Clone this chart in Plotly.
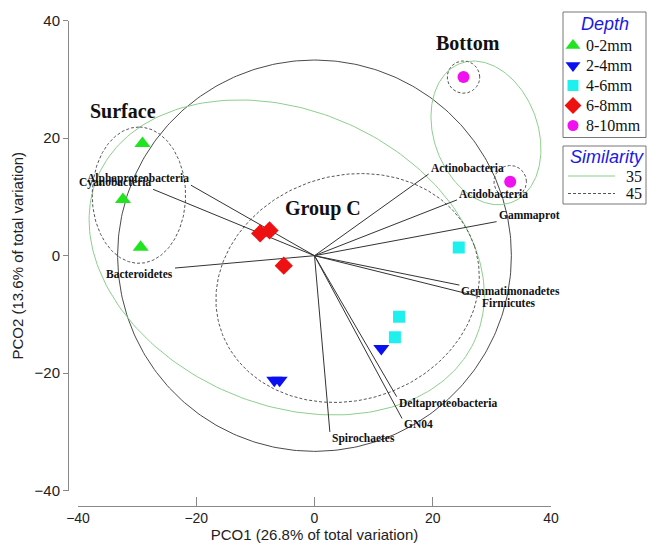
import numpy as np
import plotly.graph_objects as go

# ---- sample scores on the first two principal coordinates ----
depth_groups = ["0-2mm", "2-4mm", "4-6mm", "6-8mm", "8-10mm"]
pco1_0_2 = [-29.1, -32.4, -29.4]
pco2_0_2 = [19.1, 9.55, 1.43]
pco1_2_4 = [-6.8, -5.9, 11.3]
pco2_2_4 = [-21.2, -21.2, -15.8]
pco1_4_6 = [24.4, 14.3, 13.6]
pco2_4_6 = [1.4, -10.4, -13.9]
pco1_6_8 = [-9.2, -7.6, -5.2]
pco2_6_8 = [3.8, 4.3, -1.7]
pco1_8_10 = [25.2, 33.1]
pco2_8_10 = [30.4, 12.6]

group_x = [pco1_0_2, pco1_2_4, pco1_4_6, pco1_6_8, pco1_8_10]
group_y = [pco2_0_2, pco2_2_4, pco2_4_6, pco2_6_8, pco2_8_10]
group_symbols = ["triangle-up", "triangle-down", "square", "diamond", "circle"]
group_colors = ["#1fe41f", "#0a10f0", "#1ef0f0", "#ee1111", "#f010f0"]
group_sizes = [14, 14, 12, 14, 12]

# ---- taxon vectors (end points of correlation vectors) ----
taxa = ["Alphaproteobacteria", "Cyanobacteria", "Bacteroidetes", "Actinobacteria",
        "Acidobacteria", "Gammaprot", "Gemmatimonadetes", "Firmicutes",
        "Deltaproteobacteria", "GN04", "Spirochaetes"]
vec_x = [-20.9, -27.3, -23.6, 19.3, 24.1, 30.8, 24.5, 28.0, 13.9, 14.8, 2.6]
vec_y = [12.0, 11.3, -2.1, 13.9, 9.5, 5.8, -5.0, -7.0, -24.0, -27.7, -30.0]
vector_circle_radius = 33.3

# ---- similarity contours (centre x, centre y, semi-axis a, semi-axis b, angle deg) ----
sim_levels = ["35", "45"]
contours_35 = [(-4.7, -0.3, 34.8, 25.0, -23.6),
               (29.0, 20.9, 12.6, 8.8, -70.5)]
contours_45 = [(-29.7, 10.3, 11.6, 7.9, 90.0),
               (5.6, -5.5, 22.6, 19.1, 18.5),
               (25.2, 30.4, 2.75, 2.75, 0.0),
               (33.1, 12.6, 2.75, 2.75, 0.0)]
sim_styles = [dict(color="#8ccf8c", width=1, dash="solid"),
              dict(color="#555555", width=1, dash="3px,2px")]

group_names = ["Surface", "Bottom", "Group C"]
group_label_x = [-32.4, 26.0, 1.4]
group_label_y = [24.7, 36.2, 7.95]

x_ticks = [-40, -20, 0, 20, 40]
y_ticks = [-40, -20, 0, 20, 40]


def ellipse(cx, cy, a, b, ang_deg, n=240):
    t = np.linspace(0, 2 * np.pi, n)
    phi = np.deg2rad(ang_deg)
    ex = cx + a * np.cos(t) * np.cos(phi) - b * np.sin(t) * np.sin(phi)
    ey = cy + a * np.cos(t) * np.sin(phi) + b * np.sin(t) * np.cos(phi)
    return ex, ey


W, H = 648, 543
fig = go.Figure()

# correlation circle
cx_, cy_ = ellipse(0, 0, vector_circle_radius, vector_circle_radius, 0, 360)
fig.add_trace(go.Scatter(x=cx_, y=cy_, mode="lines", showlegend=False,
                         line=dict(color="#4a4a4a", width=1), hoverinfo="skip"))

# similarity contours
for contours, style in zip([contours_35, contours_45], sim_styles):
    for ccx, ccy, a, b, ang in contours:
        ex, ey = ellipse(ccx, ccy, a, b, ang)
        fig.add_trace(go.Scatter(x=ex, y=ey, mode="lines", showlegend=False,
                                 line=style, hoverinfo="skip"))

# vectors from the origin
lx, ly = [], []
for vx, vy in zip(vec_x, vec_y):
    lx += [0, vx, None]
    ly += [0, vy, None]
fig.add_trace(go.Scatter(x=lx, y=ly, mode="lines", showlegend=False,
                         line=dict(color="#333333", width=1), hoverinfo="skip"))

# samples
for name, xs, ys, sym, col, sz in zip(depth_groups, group_x, group_y,
                                      group_symbols, group_colors, group_sizes):
    fig.add_trace(go.Scatter(x=xs, y=ys, mode="markers", name=name,
                             showlegend=False,
                             marker=dict(symbol=sym, color=col, size=sz,
                                         line=dict(width=0))))

annotations = []
for name, vx, vy in zip(taxa, vec_x, vec_y):
    annotations.append(dict(
        x=vx, y=vy, xref="x", yref="y", text=name, showarrow=False,
        xanchor="left" if vx > 0 else "right",
        yanchor="bottom" if vy > 0 else "top",
        yshift=-2 if vy > 0 else 2,
        font=dict(family="Liberation Serif", size=11.5, color="#111111",
                  weight="bold")))
for name, gx, gy in zip(group_names, group_label_x, group_label_y):
    annotations.append(dict(
        x=gx, y=gy, xref="x", yref="y", text=name, showarrow=False,
        font=dict(family="Liberation Serif", size=20, color="#111111",
                  weight="bold")))

# ---- keys drawn on a pixel-coordinate overlay axis (x2/y2) ----
item_font = dict(family="Liberation Serif", size=16, color="#111111")
title_font = dict(family="Liberation Sans", size=18, color="#1a1ae6",
                  style="italic")
shapes = []
key_left, key_right = 563, 646
depth_top, depth_row0, row_step = 12, 45.5, 20
depth_bottom = depth_row0 + row_step * (len(depth_groups) - 1) + 12
shapes.append(dict(type="rect", xref="x2", yref="y2", x0=key_left, x1=key_right,
                   y0=depth_top, y1=depth_bottom,
                   line=dict(color="#777777", width=1)))
annotations.append(dict(x=(key_left + key_right) / 2, y=24, xref="x2", yref="y2",
                        text="Depth", showarrow=False, font=title_font))
for i, (name, sym, col, sz) in enumerate(zip(depth_groups, group_symbols,
                                             group_colors, group_sizes)):
    ry = depth_row0 + i * row_step
    fig.add_trace(go.Scatter(x=[573], y=[ry], xaxis="x2", yaxis="y2",
                             mode="markers", showlegend=False, hoverinfo="skip",
                             marker=dict(symbol=sym, color=col, size=sz - 1,
                                         line=dict(width=0))))
    annotations.append(dict(x=584, y=ry, xref="x2", yref="y2", text=name,
                            xanchor="left", showarrow=False, font=item_font))

sim_top, sim_row0, sim_step = 146, 176, 17.5
shapes.append(dict(type="rect", xref="x2", yref="y2", x0=key_left, x1=key_right,
                   y0=sim_top, y1=204, line=dict(color="#777777", width=1)))
annotations.append(dict(x=(key_left + key_right) / 2 + 2, y=157, xref="x2",
                        yref="y2", text="Similarity", showarrow=False,
                        font=title_font))
for i, (lev, style) in enumerate(zip(sim_levels, sim_styles)):
    ry = sim_row0 + i * sim_step
    fig.add_trace(go.Scatter(x=[568, 615], y=[ry, ry], xaxis="x2", yaxis="y2",
                             mode="lines", showlegend=False, hoverinfo="skip",
                             line=style))
    annotations.append(dict(x=624, y=ry, xref="x2", yref="y2", text=lev,
                            xanchor="left", showarrow=False, font=item_font))

axis_font = dict(family="Liberation Sans", size=15, color="#222222")
xtick_font = dict(family="Liberation Sans", size=14, color="#222222")

fig.update_layout(
    width=W, height=H,
    margin=dict(l=0, r=0, t=0, b=0, autoexpand=False),
    paper_bgcolor="white", plot_bgcolor="rgba(0,0,0,0)",
    showlegend=False,
    annotations=annotations,
    shapes=shapes,
    xaxis=dict(domain=[78 / W, 551 / W], range=[-40, 40], anchor="free",
               position=1 - 506 / H, showline=True, linecolor="#888888",
               linewidth=1, ticks="inside", ticklen=9, tickcolor="#888888",
               tickvals=x_ticks, showgrid=False, zeroline=False,
               tickfont=xtick_font, ticklabelstandoff=-1, automargin=False,
               title=dict(text="PCO1 (26.8% of total variation)",
                          font=axis_font, standoff=4)),
    yaxis=dict(domain=[1 - 490.7 / H, 1 - 20.7 / H], range=[-40, 40],
               anchor="free", position=68 / W, showline=True,
               linecolor="#888888", linewidth=1, ticks="outside", ticklen=5,
               tickcolor="#888888", tickvals=y_ticks, showgrid=False,
               zeroline=False, tickfont=axis_font, automargin=False,
               title=dict(text="PCO2 (13.6% of total variation)",
                          font=axis_font, standoff=6)),
    xaxis2=dict(domain=[0, 1], range=[0, W], anchor="y2", visible=False,
                fixedrange=True),
    yaxis2=dict(domain=[0, 1], range=[H, 0], anchor="x2", visible=False,
                fixedrange=True),
)

fig.write_html("out.html")
